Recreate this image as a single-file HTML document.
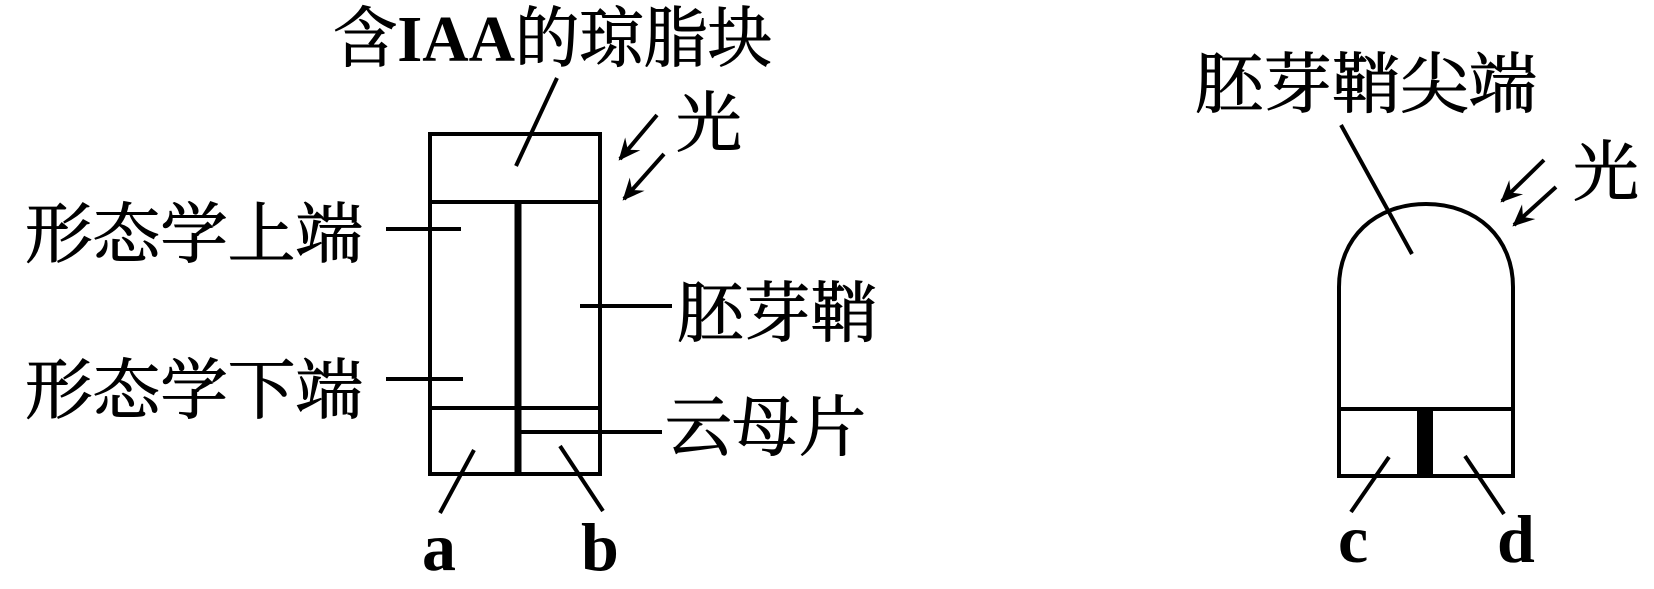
<!DOCTYPE html>
<html><head><meta charset="utf-8"><style>
html,body{margin:0;padding:0;background:#fff;}
svg{display:block;}
.cn{font-family:"Liberation Serif","Noto Serif CJK SC","Noto Sans CJK SC",serif;font-size:66px;fill:#000;stroke:#000;stroke-width:1;}
.lt{font-family:"Liberation Serif",serif;font-weight:bold;font-size:68px;fill:#000;}
</style></head><body>
<svg width="1654" height="589" viewBox="0 0 1654 589" xmlns="http://www.w3.org/2000/svg">
<defs><marker id="ah" viewBox="0 0 10 10" refX="9" refY="5" markerWidth="5.5" markerHeight="5.5" orient="auto"><path d="M0,0.5 L10,5 L0,9.5 L3.5,5 z" fill="#000"/></marker></defs>
<g stroke="#000" stroke-width="4" fill="none">
<rect x="430" y="134" width="170" height="340"/>
<line x1="430" y1="202" x2="600" y2="202"/>
<line x1="430" y1="408" x2="600" y2="408"/>
<line x1="518" y1="202" x2="518" y2="474" stroke-width="7"/>
<line x1="518" y1="432" x2="662" y2="432"/>
<line x1="557" y1="78" x2="516" y2="166"/>
<line x1="386" y1="229" x2="461" y2="229"/>
<line x1="386" y1="379" x2="463" y2="379"/>
<line x1="580" y1="306" x2="672" y2="306"/>
<line x1="474" y1="450" x2="440" y2="513"/>
<line x1="560" y1="446" x2="603" y2="511"/>
<line x1="657" y1="115" x2="620" y2="159" marker-end="url(#ah)"/>
<line x1="664" y1="154" x2="624" y2="199" marker-end="url(#ah)"/>
<path d="M1339,476 L1339,287 C1339,238 1375,204 1426,204 C1477,204 1513,238 1513,287 L1513,476 Z"/>
<line x1="1339" y1="409" x2="1513" y2="409"/>
<rect x="1417" y="409" width="16" height="67" fill="#000" stroke="none"/>
<line x1="1341" y1="125" x2="1412" y2="254"/>
<line x1="1389" y1="457" x2="1351" y2="512"/>
<line x1="1465" y1="456" x2="1504" y2="514"/>
<line x1="1544" y1="160" x2="1502" y2="201" marker-end="url(#ah)"/>
<line x1="1556" y1="187" x2="1514" y2="225" marker-end="url(#ah)"/>
</g>
<text class="cn" x="333" y="61" textLength="439" lengthAdjust="spacingAndGlyphs">含<tspan style="font-family:'Liberation Serif',serif;font-weight:bold;stroke-width:0">IAA</tspan>的琼脂块</text>
<text class="cn" x="676" y="146">光</text>
<text class="cn" x="25" y="257" textLength="338" lengthAdjust="spacingAndGlyphs">形态学上端</text>
<text class="cn" x="25" y="413" textLength="338" lengthAdjust="spacingAndGlyphs">形态学下端</text>
<text class="cn" x="677" y="336" textLength="200" lengthAdjust="spacingAndGlyphs">胚芽鞘</text>
<text class="cn" x="665" y="450" textLength="201" lengthAdjust="spacingAndGlyphs">云母片</text>
<text class="cn" x="1195" y="107" textLength="342" lengthAdjust="spacingAndGlyphs">胚芽鞘尖端</text>
<text class="cn" x="1573" y="195">光</text>
<text class="lt" x="422" y="570">a</text>
<text class="lt" x="581" y="570">b</text>
<text class="lt" x="1338" y="562">c</text>
<text class="lt" x="1497" y="562">d</text>
</svg>
</body></html>
